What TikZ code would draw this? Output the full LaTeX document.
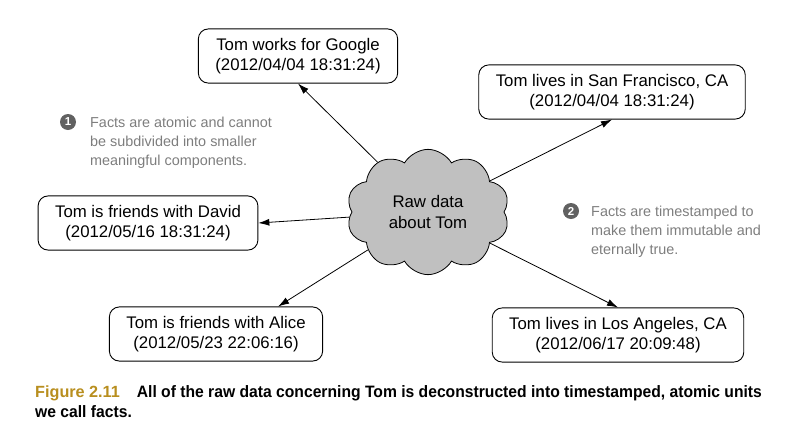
\documentclass[tikz,border=0pt]{standalone}
\usepackage{fontspec}
\setmainfont{Liberation Sans}
\newfontfamily\capfont[FakeStretch=0.95]{Liberation Sans}
\usetikzlibrary{shapes,arrows.meta,calc}
\definecolor{notegray}{RGB}{125,125,125}
\definecolor{cloudgray}{RGB}{192,192,192}
\definecolor{figgold}{RGB}{184,142,30}

\begin{document}
\begin{tikzpicture}[x=1pt,y=-1pt]
        % one raw blob, five facts around it
        \tikzstyle{fact} = [draw,rectangle,rounded corners=10pt,align=center,inner xsep=17pt,inner ysep=9pt,line width=0.9pt,font=\fontsize{16.8}{20.5}\selectfont];
        \tikzstyle{note} = [anchor=north west,align=left,inner sep=0pt,text=notegray,font=\fontsize{14.4}{19}\selectfont];
        \tikzstyle{bullet} = [circle,fill=black!62,text=white,inner sep=0pt,minimum size=16pt,font=\fontsize{11.5}{11.5}\selectfont\bfseries];
        \tikzstyle{link} = [draw,line width=0.8pt,-{Latex[length=11pt,width=7pt]}];

        \useasboundingbox (0,0) rectangle (797,434);

        \node[cloud,cloud puffs=10,cloud puff arc=120,draw,fill=cloudgray,line width=0.8pt,minimum width=163pt,minimum height=122pt,inner sep=0pt,align=center,font=\fontsize{16.8}{20.5}\selectfont] (raw) at (428,212) {Raw data\\about Tom};

        \node[fact] (google) at (298,56) {Tom works for Google\\(2012/04/04 18:31:24)};
        \node[fact] (sf) at (612,92) {Tom lives in San Francisco, CA\\(2012/04/04 18:31:24)};
        \node[fact] (david) at (148,223) {Tom is friends with David\\(2012/05/16 18:31:24)};
        \node[fact] (alice) at (216,334) {Tom is friends with Alice\\(2012/05/23 22:06:16)};
        \node[fact] (la) at (618,335) {Tom lives in Los Angeles, CA\\(2012/06/17 20:09:48)};

        \draw[link] (raw) -- (google.south);
        \draw[link] (raw) -- (sf.south);
        \draw[link] (raw) -- (david.east);
        \draw[link] (raw) -- ($(alice.north)!0.58!(alice.north east)$);
        \draw[link] (raw) -- (la.north);

        \node[bullet] (b1) at (68,122) {1};
        \node[note] (n1) at (90,117) {Facts are atomic and cannot\\be subdivided into smaller\\meaningful components.};
        \node[bullet] (b2) at (571,211) {2};
        \node[note] (n2) at (591,206) {Facts are timestamped to\\make them immutable and\\eternally true.};

        \node[anchor=base west,align=left,inner sep=0pt,font=\capfont\bfseries\fontsize{16.5}{19.5}\selectfont] (caption) at (35,417)
            {{\color{figgold}\fontspec{Liberation Sans Bold}\fontsize{16.2}{19.5}\selectfont Figure 2.11}\hspace{17pt}All of the raw data concerning Tom is deconstructed into timestamped, atomic units\\we call facts.};
\end{tikzpicture}
\end{document}
